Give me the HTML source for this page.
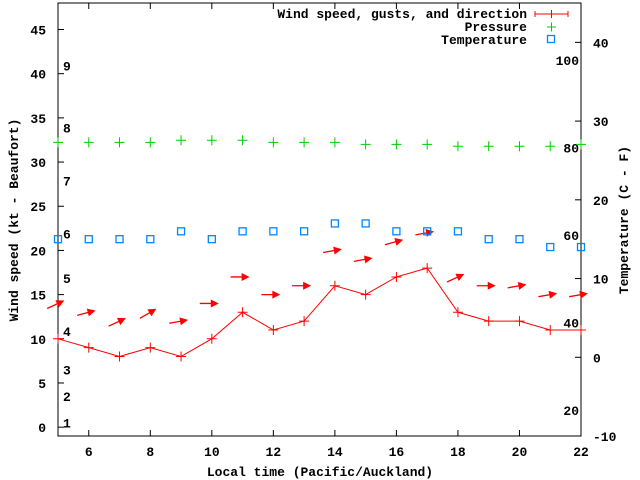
<!DOCTYPE html>
<html><head><meta charset="utf-8"><style>
html,body{margin:0;padding:0;background:#fff}
svg{display:block}
text{font-family:"Liberation Mono",monospace;font-size:13px;font-weight:bold;fill:#000}
</style></head><body>
<svg id="chart" width="640" height="480" xmlns="http://www.w3.org/2000/svg">
<rect x="58" y="3" width="523" height="433" fill="none" stroke="#000" stroke-width="1"/>
<g id="ticks"></g>
<g id="marks"></g>
<text x="18" y="220" transform="rotate(-90 18 220)" text-anchor="middle">Wind speed (kt - Beaufort)</text>
<text x="628" y="220" transform="rotate(-90 628 220)" text-anchor="middle">Temperature (C - F)</text>
<text x="320" y="476" text-anchor="middle">Local time (Pacific/Auckland)</text>
<g>
<text x="527" y="18" text-anchor="end">Wind speed, gusts, and direction</text>
<path d="M535 14H568M535 11V17M568 11V17M551.5 10V18" stroke="#f00" fill="none"/>
<text x="527" y="31" text-anchor="end">Pressure</text>
<path d="M547 27H556M551.5 22.5V31.5" stroke="#0c0"/>
<text x="527" y="44" text-anchor="end">Temperature</text>
<rect x="547.5" y="35.5" width="7" height="7" fill="none" stroke="#08f" stroke-width="1.3"/>
</g>
</svg>
<script>
const hours=[5,6,7,8,9,10,11,12,13,14,15,16,17,18,19,20,21,22];
const windSpeed=[10,9,8,9,8,10,13,11,12,16,15,17,18,13,12,12,11,11];
const gusts=[14,13,12,13,12,14,17,15,16,20,19,21,22,17,16,16,15,15];
const windAngle=[25,15,25,30,10,0,0,0,0,10,10,15,10,25,0,10,10,10];
const pressure=[27.3,27.3,27.3,27.3,27.56,27.56,27.56,27.3,27.3,27.3,27.05,27.05,27.05,26.8,26.8,26.8,26.8,27.05];
const temperature=[15,15,15,15,16,15,16,16,16,17,17,16,16,16,15,15,14,14];
const xTicks=[6,8,10,12,14,16,18,20,22];
const yTicks=[0,5,10,15,20,25,30,35,40,45];
const tTicks=[-10,0,10,20,30,40];
const fLabels=[20,40,60,80,100];
const beaufort=[[1,0.5],[2,3.5],[3,6.5],[4,10.9],[5,16.9],[6,21.9],[7,27.9],[8,33.9],[9,40.9]];
const L=58,R=581,T=3,B=436;
const xs=h=>L+(h-5)*(R-L)/17;
const ys=v=>B-(v+1)*(B-T)/49;
const ts=c=>B-(c+10)*(B-T)/55;
const NS='http://www.w3.org/2000/svg';
function mk(tag,attrs,parent,txt){const e=document.createElementNS(NS,tag);for(const k in attrs)e.setAttribute(k,attrs[k]);if(txt!==undefined)e.textContent=txt;document.getElementById(parent).appendChild(e);return e;}
xTicks.forEach(h=>{
 const p=mk('path',{d:`M${xs(h)} ${B}v-6M${xs(h)} ${T}v6`,stroke:'#000'},'ticks');
 
 
 const t=mk('text',{x:xs(h),y:B+20,'text-anchor':'middle'},'ticks',h);
 
 
});
yTicks.forEach(v=>{
 const p=mk('path',{d:`M${L} ${ys(v)}h6`,stroke:'#000'},'ticks');
 
 
 const t=mk('text',{x:L-12,y:ys(v)+5,'text-anchor':'end'},'ticks',v);
 
 
});
tTicks.forEach(v=>{
 const p=mk('path',{d:`M${R} ${ts(v)}h-6`,stroke:'#000'},'ticks');
 
 
 const t=mk('text',{x:R+12,y:ts(v)+5},'ticks',v);
 
 
});
fLabels.forEach(f=>{
 const t=mk('text',{x:R-2,y:ts((f-32)*5/9)+5,'text-anchor':'end'},'ticks',f);
 
 
});
beaufort.forEach(b=>{
 const t=mk('text',{x:63,y:ys(b[1])+5},'ticks',b[0]);
 
 
});
const line=mk('polyline',{points:hours.map((h,i)=>xs(h)+','+ys(windSpeed[i])).join(' '),fill:'none',stroke:'#f00'},'marks');


hours.forEach((h,i)=>{
 const x=xs(h),y=ys(windSpeed[i]);
 const p=mk('path',{d:`M${x-5} ${y}h10M${x} ${y-5}v10`,stroke:'#f00'},'marks');
 
 
 const gx=xs(h),gy=ys(gusts[i]),a=windAngle[i]*Math.PI/180;
 const hx=gx+5*Math.cos(a),hy=gy-5*Math.sin(a),tx=gx-12*Math.cos(a),ty=gy+12*Math.sin(a);
 const ux=Math.cos(a),uy=-Math.sin(a),nx=-uy,ny=ux;
 const g=mk('g',{},'marks');
 
 
 const l=mk('line',{x1:tx,y1:ty,x2:hx,y2:hy,stroke:'#f00','stroke-width':1.3},'marks');g.appendChild(l);
 const hd=mk('polygon',{points:`${hx+2*ux},${hy+2*uy} ${hx-6*ux+4*nx},${hy-6*uy+4*ny} ${hx-6*ux-4*nx},${hy-6*uy-4*ny}`,fill:'#f00'},'marks');g.appendChild(hd);
 const px=xs(h),py=ts(pressure[i]);
 const pp=mk('path',{d:`M${px-5} ${py}h10M${px} ${py-5}v10`,stroke:'#0c0'},'marks');
 
 
 const ty2=ts(temperature[i]);
 const r=mk('rect',{x:xs(h)-3.5,y:ty2-3.5,width:7,height:7,fill:'none',stroke:'#08f','stroke-width':1.3},'marks');
 
 
});
</script>
</body></html>
